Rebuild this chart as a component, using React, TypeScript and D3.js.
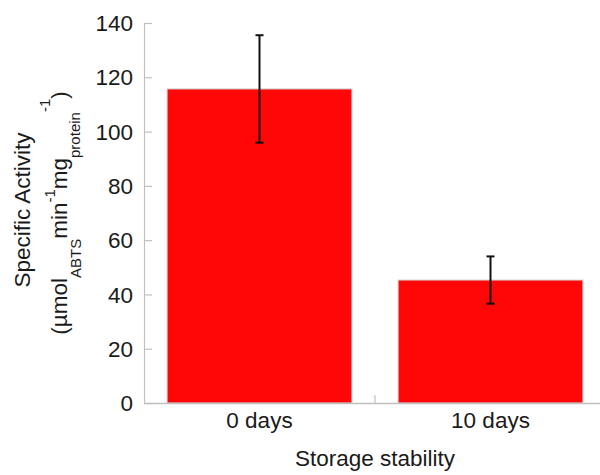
import React from "react";
import * as d3 from "d3";

const categories = ["0 days", "10 days"];
const values = [115.7, 45.3];
const errors = [19.8, 8.7];
const yTicks = [0, 20, 40, 60, 80, 100, 120, 140];

const W = 600;
const H = 475;
const FONT = "'Liberation Sans', Arial, Helvetica, sans-serif";
const FS = 22.5;

export default function App() {
  const x = d3
    .scaleBand<string>()
    .domain(categories)
    .range([144, 606])
    .paddingInner(0.2)
    .paddingOuter(0.1);
  const y = d3.scaleLinear().domain([0, 140]).range([403, 23]);
  const axisColor = "#c0c0c0";
  const textColor = "#1a1a1a";
  const bw = x.bandwidth();
  const boundaries = categories.slice(1).map((c) => (x(c) as number) - (x.step() * x.paddingInner()) / 2);

  return (
    <svg
      width={W}
      height={H}
      style={{ position: "absolute", left: 0, top: 0, background: "#fff" }}
      fontFamily={FONT}
    >
      {/* bars */}
      {categories.map((c, i) => (
        <rect
          key={c}
          x={x(c)}
          y={y(values[i])}
          width={bw}
          height={y(0) - y(values[i])}
          fill="#ff0707"
          stroke="#d0d0d0"
          strokeWidth={1}
        />
      ))}
      {/* error bars */}
      {categories.map((c, i) => {
        const cx = (x(c) as number) + bw / 2;
        const top = y(values[i] + errors[i]);
        const bot = y(values[i] - errors[i]);
        return (
          <g key={"e" + c} stroke="#111" strokeWidth={2}>
            <line x1={cx} x2={cx} y1={top} y2={bot} />
            <line x1={cx - 4} x2={cx + 4} y1={top} y2={top} />
            <line x1={cx - 4} x2={cx + 4} y1={bot} y2={bot} />
          </g>
        );
      })}
      {/* y axis */}
      <line x1={144.5} x2={144.5} y1={y(140)} y2={y(0)} stroke={axisColor} strokeWidth={1.2} />
      {yTicks.map((t) => (
        <g key={t}>
          <line x1={144} x2={152} y1={y(t) + 0.5} y2={y(t) + 0.5} stroke={axisColor} strokeWidth={1.2} />
          <text
            x={133}
            y={y(t)}
            dy="0.36em"
            textAnchor="end"
            fontSize={FS}
            fill={textColor}
          >
            {t}
          </text>
        </g>
      ))}
      {/* x axis */}
      <line x1={144} x2={600} y1={y(0) + 0.5} y2={y(0) + 0.5} stroke={axisColor} strokeWidth={1.5} />
      {boundaries.map((b, i) => (
        <line key={i} x1={b} x2={b} y1={y(0)} y2={y(0) - 8} stroke={axisColor} strokeWidth={1.2} />
      ))}
      {categories.map((c) => (
        <text
          key={"l" + c}
          x={(x(c) as number) + bw / 2}
          y={428}
          textAnchor="middle"
          fontSize={FS}
          fill={textColor}
        >
          {c}
        </text>
      ))}
      <text x={375} y={466} textAnchor="middle" fontSize={FS} fill={textColor}>
        Storage stability
      </text>
      {/* y title */}
      <text
        transform="translate(30,210) rotate(-90)"
        textAnchor="middle"
        fontSize={FS}
        fill={textColor}
      >
        Specific Activity
      </text>
      <text
        transform="translate(67,213) rotate(-90)"
        textAnchor="middle"
        fontSize={FS}
        fill={textColor}
      >
        <tspan>(µmol</tspan>
        <tspan fontSize={15} dy={14}>ABTS</tspan>
        <tspan dy={-14}>min</tspan>
        <tspan fontSize={15} dy={-12}>-1</tspan>
        <tspan dy={12}>mg</tspan>
        <tspan fontSize={15} dy={13}>protein</tspan>
        <tspan fontSize={15} dy={-30}>-1</tspan>
        <tspan dy={17}>)</tspan>
      </text>
    </svg>
  );
}
